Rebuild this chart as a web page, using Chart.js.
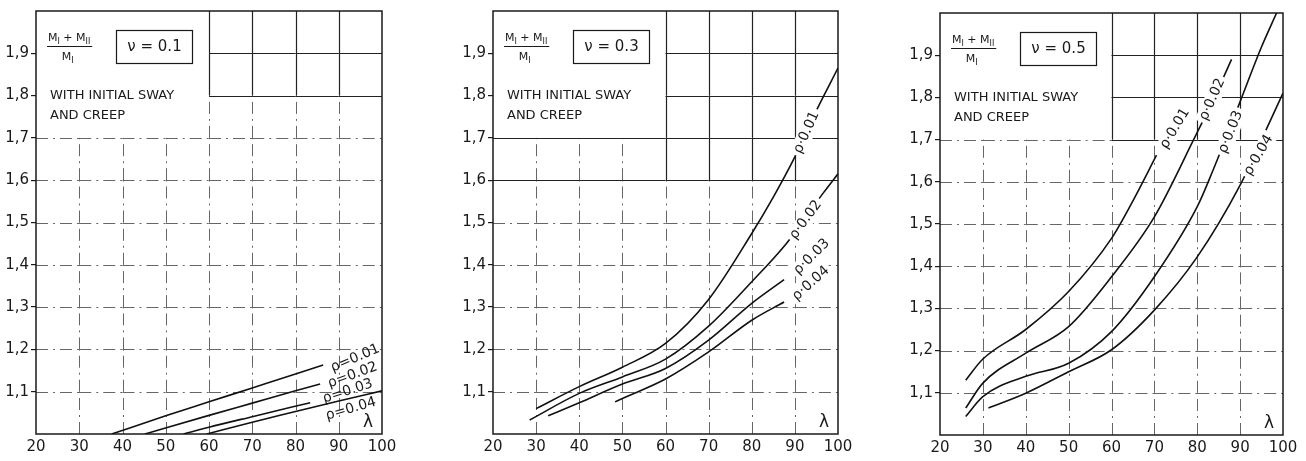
<!DOCTYPE html>
<html>
<head>
<meta charset="utf-8">
<script src="https://cdn.jsdelivr.net/npm/chart.js@4.4.1/dist/chart.umd.min.js"></script>
<style>
  html, body { margin: 0; padding: 0; background: #fff; }
  .panel { position: absolute; top: 0; height: 461px; }
</style>
</head>
<body>
<div class="panel" style="left:0;width:405px"><canvas id="c1"></canvas></div>
<div class="panel" style="left:440px;width:420px"><canvas id="c2"></canvas></div>
<div class="panel" style="left:880px;width:426px"><canvas id="c3"></canvas></div>
<script>
// axis ticks
const xTicks = [20, 30, 40, 50, 60, 70, 80, 90, 100];
const yTicks = [1.1, 1.2, 1.3, 1.4, 1.5, 1.6, 1.7, 1.8, 1.9];
const yTickLabels = ["1,1", "1,2", "1,3", "1,4", "1,5", "1,6", "1,7", "1,8", "1,9"];
const rhoNames = ["0.01", "0.02", "0.03", "0.04"];

// curves [lambda, (MI+MII)/MI]
// nu = 0.1
const nu1Rho001 = [[37.5, 1.0], [50, 1.043], [60, 1.076], [70, 1.109], [80, 1.142], [86.4, 1.163]];
const nu1Rho002 = [[45.2, 1.0], [60, 1.044], [70, 1.073], [80, 1.102], [85.7, 1.118]];
const nu1Rho003 = [[54.1, 1.0], [60, 1.016], [70, 1.041], [83.4, 1.074]];
const nu1Rho004 = [[59.5, 1.0], [70, 1.028], [80, 1.053], [90, 1.078], [100, 1.102]];
// nu = 0.3
const nu3Rho001 = [[30, 1.06], [40, 1.112], [50, 1.158], [60, 1.214], [70, 1.318], [80, 1.474], [85, 1.56], [90, 1.655], [95, 1.765], [100, 1.865]];
const nu3Rho002 = [[28.5, 1.033], [40, 1.096], [50, 1.135], [60, 1.177], [70, 1.255], [80, 1.36], [88, 1.45], [92, 1.505], [96.6, 1.57], [100, 1.615]];
const nu3Rho003 = [[32.8, 1.043], [40, 1.074], [50, 1.118], [60, 1.155], [70, 1.222], [80, 1.309], [87.5, 1.365]];
const nu3Rho004 = [[48.3, 1.076], [50, 1.084], [60, 1.13], [70, 1.194], [80, 1.269], [87.5, 1.312]];
// nu = 0.5
const nu5Rho001 = [[26, 1.13], [30, 1.18], [40, 1.25], [50, 1.34], [60, 1.466], [65, 1.555], [70.5, 1.663]];
const nu5Rho002 = [[26, 1.064], [30, 1.123], [40, 1.194], [50, 1.257], [60, 1.375], [70, 1.517], [79.5, 1.707], [84, 1.8], [88, 1.89]];
const nu5Rho003 = [[26, 1.044], [30, 1.091], [40, 1.139], [50, 1.17], [60, 1.245], [70, 1.375], [80, 1.541], [83.7, 1.628], [90, 1.79], [95, 1.92], [98.5, 2.0]];
const nu5Rho004 = [[31.3, 1.064], [40, 1.099], [50, 1.15], [60, 1.202], [70, 1.296], [80, 1.422], [90, 1.592], [95, 1.7], [100, 1.81]];

const FONT = '"DejaVu Sans", sans-serif';
const INK = "#1a1a1a";

// grid drawn like the plate: dash-dot, solid in the upper right, blank behind the header
const paperGrid = {
  id: "paperGrid",
  beforeDatasetsDraw(chart, args, opts) {
    const { ctx, chartArea: a, scales: { x, y } } = chart;
    ctx.save();
    const seg = (x1, y1, x2, y2, solid) => {
      ctx.beginPath();
      ctx.setLineDash(solid ? [] : [12, 5, 2, 5]);
      ctx.lineWidth = solid ? 1.2 : 1;
      ctx.strokeStyle = solid ? "#222" : "#666";
      ctx.moveTo(x1, y1);
      ctx.lineTo(x2, y2);
      ctx.stroke();
    };
    const ySteps = [1.0].concat(yTicks, [2.0]);
    xTicks.slice(1, -1).forEach(v => {
      const px = Math.round(x.getPixelForValue(v)) + 0.5;
      for (let i = 0; i < ySteps.length - 1; i++) {
        const y0 = ySteps[i], y1 = ySteps[i + 1];
        if (v < 60 && y0 >= 1.69) continue;
        const solid = v >= opts.sx && y0 >= opts.sy - 0.01;
        seg(px, y.getPixelForValue(y0), px, y.getPixelForValue(y1), solid);
      }
    });
    yTicks.forEach(v => {
      const py = Math.round(y.getPixelForValue(v)) + 0.5;
      for (let i = 0; i < xTicks.length - 1; i++) {
        const x0 = xTicks[i], x1 = xTicks[i + 1];
        if (x0 < 60 && v > 1.71) continue;
        const solid = (x0 >= opts.sx && v >= opts.sy - 0.01) || opts.fullRows.includes(v);
        seg(x.getPixelForValue(x0), py, x.getPixelForValue(x1), py, solid);
      }
    });
    ctx.setLineDash([]);
    ctx.lineWidth = 1.5;
    ctx.strokeStyle = INK;
    ctx.strokeRect(a.left, a.top, a.right - a.left, a.bottom - a.top);
    ctx.restore();
  }
};

function drawM(ctx, x, y, sub) {
  ctx.font = "11px " + FONT;
  ctx.fillText("M", x, y);
  const w = ctx.measureText("M").width;
  ctx.font = "8px " + FONT;
  ctx.fillText(sub, x + w, y + 3);
  return w + ctx.measureText(sub).width;
}

// header, curve labels and lambda
const plateText = {
  id: "plateText",
  afterDatasetsDraw(chart, args, opts) {
    const { ctx, chartArea: a, scales: { x, y } } = chart;
    const L = a.left, T = a.top;
    ctx.save();
    ctx.fillStyle = INK;
    ctx.strokeStyle = INK;
    ctx.textBaseline = "alphabetic";
    ctx.textAlign = "left";
    // fraction
    let cx = L + 12;
    cx += drawM(ctx, cx, T + 30, "I");
    ctx.font = "11px " + FONT;
    ctx.fillText(" + ", cx, T + 30);
    cx += ctx.measureText(" + ").width;
    cx += drawM(ctx, cx, T + 30, "II");
    ctx.lineWidth = 1;
    ctx.beginPath();
    ctx.moveTo(L + 11, T + 35.5);
    ctx.lineTo(cx + 2, T + 35.5);
    ctx.stroke();
    drawM(ctx, L + 11 + (cx - L - 11) / 2 - 7, T + 49, "I");
    // nu box
    ctx.lineWidth = 1.2;
    ctx.strokeRect(L + 80.5, T + 19.5, 76, 33);
    ctx.font = "15px " + FONT;
    ctx.textAlign = "center";
    ctx.textBaseline = "middle";
    ctx.fillText(opts.nu, L + 118.5, T + 36.5);
    // note
    ctx.textAlign = "left";
    ctx.font = "13px " + FONT;
    ctx.fillText("WITH INITIAL SWAY", L + 14, T + 85);
    ctx.fillText("AND CREEP", L + 14, T + 105);
    // lambda
    ctx.font = "17px " + FONT;
    ctx.textAlign = "center";
    ctx.fillText("\u03bb", a.right - 14, a.bottom - 11);
    // curve labels
    opts.labels.forEach(l => {
      ctx.save();
      ctx.translate(x.getPixelForValue(l.at[0]), y.getPixelForValue(l.at[1]));
      ctx.rotate(l.angle * Math.PI / 180);
      ctx.font = "14px " + FONT;
      const w = ctx.measureText(l.text).width;
      if (opts.clear) {
        ctx.fillStyle = "#fff";
        ctx.fillRect(-w / 2 - 3, -8, w + 6, 16);
      }
      ctx.fillStyle = INK;
      ctx.textAlign = "center";
      ctx.textBaseline = "middle";
      ctx.fillText(l.text, 0, 0);
      ctx.restore();
    });
    ctx.restore();
  }
};

function makePanel(id, box, nu, curves, labels, grid, clear) {
  const el = document.getElementById(id);
  const width = el.parentNode.clientWidth;
  return new Chart(el, {
    type: "line",
    data: {
      datasets: curves.map(c => ({
        data: c.map(p => ({ x: p[0], y: p[1] })),
        borderColor: "#111",
        borderWidth: 1.6,
        pointRadius: 0,
        cubicInterpolationMode: "monotone",
        fill: false
      }))
    },
    options: {
      responsive: true,
      maintainAspectRatio: false,
      animation: false,
      layout: {
        autoPadding: false,
        padding: { top: box.top, right: width - box.right, left: 0, bottom: 0 }
      },
      plugins: {
        legend: { display: false },
        tooltip: { enabled: false },
        paperGrid: grid,
        plateText: { nu, labels, clear }
      },
      scales: {
        x: {
          type: "linear",
          min: 20,
          max: 100,
          afterBuildTicks: s => { s.ticks = xTicks.map(v => ({ value: v })); },
          afterFit: s => { s.height = 461 - box.bottom; },
          grid: { display: false, drawTicks: false },
          border: { display: false },
          ticks: { color: INK, font: { family: FONT, size: 15 }, padding: 4, maxRotation: 0 }
        },
        y: {
          type: "linear",
          min: 1,
          max: 2,
          afterBuildTicks: s => { s.ticks = yTicks.map(v => ({ value: v })); },
          afterFit: s => { s.width = box.left; },
          grid: { drawOnChartArea: false, tickLength: 5, color: INK, lineWidth: 1.2 },
          border: { display: false },
          ticks: {
            color: INK,
            font: { family: FONT, size: 15 },
            padding: 2,
            callback: (v, i) => yTickLabels[i]
          }
        }
      }
    },
    plugins: [paperGrid, plateText]
  });
}

makePanel("c1", { left: 36, right: 382, top: 9, bottom: 434 }, "\u03bd = 0.1",
  [nu1Rho001, nu1Rho002, nu1Rho003, nu1Rho004],
  [
    { text: "\u03c1=" + rhoNames[0], at: [93.8, 1.179], angle: -23 },
    { text: "\u03c1=" + rhoNames[1], at: [93.2, 1.139], angle: -20 },
    { text: "\u03c1=" + rhoNames[2], at: [92.1, 1.101], angle: -18 },
    { text: "\u03c1=" + rhoNames[3], at: [92.8, 1.059], angle: -16 }
  ],
  { sx: 60, sy: 1.8, fullRows: [] }, false);

makePanel("c2", { left: 53, right: 398, top: 10, bottom: 434 }, "\u03bd = 0.3",
  [nu3Rho001, nu3Rho002, nu3Rho003, nu3Rho004],
  [
    { text: "\u03c1\u00b7" + rhoNames[0], at: [92.7, 1.713], angle: -66 },
    { text: "\u03c1\u00b7" + rhoNames[1], at: [92.5, 1.506], angle: -54 },
    { text: "\u03c1\u00b7" + rhoNames[2], at: [93.9, 1.419], angle: -45 },
    { text: "\u03c1\u00b7" + rhoNames[3], at: [93.7, 1.356], angle: -42 }
  ],
  { sx: 60, sy: 1.6, fullRows: [1.6, 1.7] }, true);

makePanel("c3", { left: 60, right: 403, top: 13, bottom: 435 }, "\u03bd = 0.5",
  [nu5Rho001, nu5Rho002, nu5Rho003, nu5Rho004],
  [
    { text: "\u03c1\u00b7" + rhoNames[0], at: [74.8, 1.726], angle: -59 },
    { text: "\u03c1\u00b7" + rhoNames[1], at: [83.5, 1.795], angle: -66 },
    { text: "\u03c1\u00b7" + rhoNames[2], at: [87.8, 1.718], angle: -68 },
    { text: "\u03c1\u00b7" + rhoNames[3], at: [94.3, 1.663], angle: -60 }
  ],
  { sx: 60, sy: 1.7, fullRows: [] }, true);
</script>
</body>
</html>
